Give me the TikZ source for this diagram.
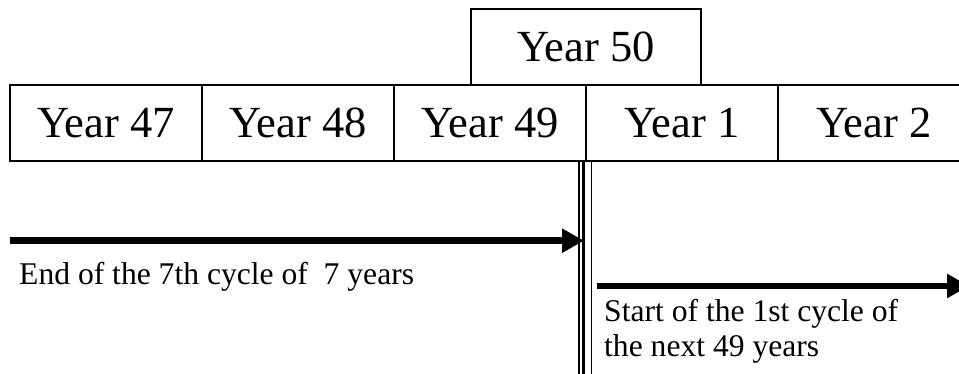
\documentclass[tikz,border=0pt]{standalone}
\usepackage{fontspec}
\setmainfont{Liberation Serif}
\usetikzlibrary{positioning,arrows.meta}
\tikzset{
  yearbox/.style={draw,line width=1.3pt,minimum width=192pt,minimum height=76pt,
    inner sep=0pt,outer sep=0pt,font=\fontsize{44.5}{50}\selectfont},
  note/.style={inner sep=0pt,align=left,font=\fontsize{31.6}{35}\selectfont},
  bigarrow/.style={line width=6.7pt,-{Triangle[length=22pt,width=23pt]}}
}
\begin{document}
\begin{tikzpicture}[x=1pt,y=-1pt]
  \useasboundingbox[fill=white] (0,0) rectangle (959,374);
  \node[yearbox] (y47) at (106,123) {Year 47};
  \node[yearbox,right=0pt of y47] (y48) {Year 48};
  \node[yearbox,right=0pt of y48] (y49) {Year 49};
  \node[yearbox,right=0pt of y49] (y1) {Year 1};
  \node[yearbox,right=0pt of y1] (y2) {Year 2};
  \node[yearbox,minimum width=230pt,above=0pt of y49.north east] (y50) {Year 50};
  \coordinate (sep) at (y49.south east);
  \draw[line width=1.5pt] ([xshift=-7pt]sep) -- ++(0,220);
  \draw[line width=3.4pt] ([xshift=-2.7pt]sep) -- ++(0,220);
  \draw[line width=1.6pt] ([xshift=5.5pt]sep) -- ++(0,220);
  \coordinate (endfrom) at (10,240.7);
  \coordinate (endtip) at ([xshift=-2pt]sep |- endfrom);
  \coordinate (startfrom) at (596.7,286);
  \coordinate (starttip) at (969,286);
  \draw[bigarrow] (endfrom) -- (endtip);
  \draw[bigarrow] (startfrom) -- (starttip);
  \node[note,anchor=base west] (endlbl) at (19,284) {End of the 7th cycle of~ 7 years};
  \node[note,anchor=base west] (startlbl) at (604,356.7) {Start of the 1st cycle of\\the next 49 years};
\end{tikzpicture}
\end{document}
